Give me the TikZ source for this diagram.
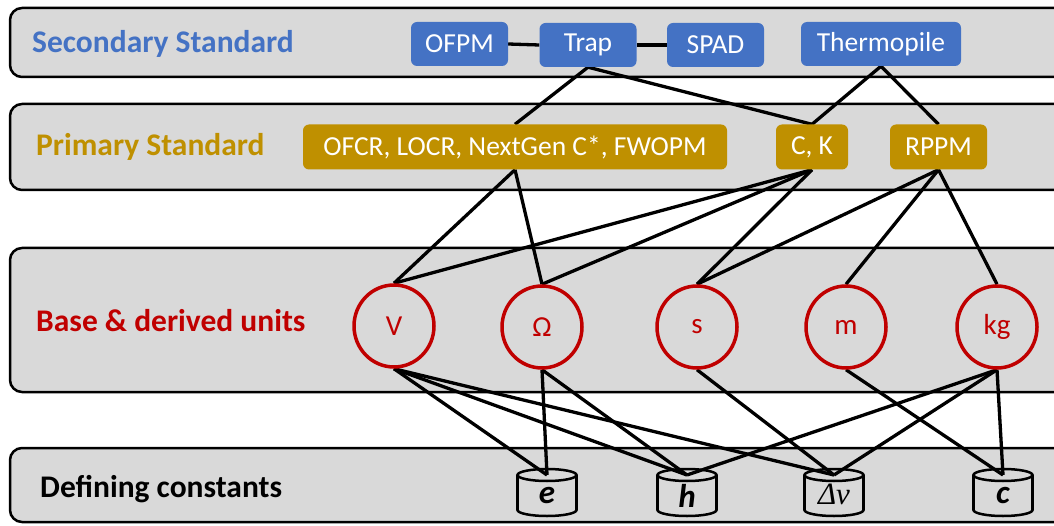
\documentclass[tikz,border=0pt]{standalone}
\usepackage{fontspec}
\setmainfont{Carlito}
\newfontfamily\timesfont{Liberation Serif}
\usetikzlibrary{shapes.geometric}
\definecolor{bandgray}{HTML}{D9D9D9}
\definecolor{secblue}{HTML}{4472C4}
\definecolor{prigold}{HTML}{BF9000}
\definecolor{unitred}{HTML}{C00000}
\pgfdeclarelayer{bg}
\pgfdeclarelayer{links}
\pgfsetlayers{bg,links,main}
\begin{document}
\begin{tikzpicture}[x=1pt,y=-1pt,
  band/.style={fill=bandgray, draw=black, line width=2.5pt, rounded corners=12pt},
  bandlabel/.style={anchor=base west, inner sep=0pt, font=\fontsize{31.5}{34}\selectfont\bfseries},
  secbox/.style={fill=secblue, rounded corners=6pt, text=white, minimum height=44pt, inner xsep=0pt, font=\fontsize{27.5}{30}\selectfont},
  pribox/.style={fill=prigold, rounded corners=6pt, text=white, minimum height=45pt, inner xsep=0pt, font=\fontsize{27.5}{30}\selectfont},
  unitc/.style={ellipse, draw=unitred, line width=3.5pt, fill=bandgray, minimum width=80pt, minimum height=82pt, inner sep=0pt, text=unitred, font=\fontsize{29}{30}\selectfont},
  constlabel/.style={inner sep=0pt, font=\fontsize{33}{34}\selectfont\bfseries\itshape},
  cylline/.style={draw=black, line width=2.5pt},
  link/.style={draw=black, line width=3.3pt}]
\clip (0,0) rectangle (1054,526);
\useasboundingbox (0,0) rectangle (1054,526);
% bands
\begin{pgfonlayer}{bg}
\draw[band] (10,8) rectangle (1080,77);
\draw[band] (10,104) rectangle (1080,190);
\draw[band] (10,248) rectangle (1080,392);
\draw[band] (10,448) rectangle (1080,522);
% cylinders
\foreach \x in {547,687,834,1003}{
  \filldraw[cylline, fill=bandgray] (\x,510) ellipse (29.5pt and 6pt);
  \fill[bandgray] (\x-29.5,475) rectangle (\x+29.5,510);
  \draw[cylline] (\x-29.5,475) -- (\x-29.5,510);
  \draw[cylline] (\x+29.5,475) -- (\x+29.5,510);
  \filldraw[cylline, fill=bandgray] (\x,475) ellipse (29.5pt and 6pt);
}
\end{pgfonlayer}
% band labels
\node[bandlabel, text=secblue] (lsec) at (32,53) {Secondary Standard};
\node[bandlabel, text=prigold] (lpri) at (36,156) {Primary Standard};
\node[bandlabel, text=unitred] (lunit) at (36,331) {Base \& derived units};
\node[bandlabel, text=black] (lconst) at (40,497) {Defining constants};
% secondary
\node[secbox, minimum width=97pt] (ofpm) at (459.5,44) {OFPM};
\node[secbox, minimum width=97pt] (trap) at (588,45) {Trap};
\node[secbox, minimum width=97pt] (spad) at (715.5,45) {SPAD};
\node[secbox, minimum width=160pt] (thermo) at (881,44) {Thermopile};
% primary
\node[pribox, minimum width=424pt] (ofcr) at (515,147) {OFCR, LOCR, NextGen C*, FWOPM};
\node[pribox, minimum width=72pt] (ck) at (812,147) {C, K};
\node[pribox, minimum width=97pt] (rppm) at (938.5,147) {RPPM};
% units
\node[unitc] (V) at (394,326) {V};
\node[unitc] (O) at (542,327) {Ω};
\node[unitc] (s) at (697,327) {s};
\node[unitc] (m) at (846,327) {m};
\node[unitc] (kg) at (997,327) {kg};
% constants
\coordinate (eT) at (547,475);
\coordinate (hT) at (687,475);
\coordinate (dnT) at (834,475);
\coordinate (cT) at (1003,475);
\node[constlabel] (e) at (547,496) {e};
\node[constlabel] (h) at (687,496) {h};
\node[inner sep=0pt, font=\fontsize{31}{34}\selectfont\timesfont\itshape] (dn) at (834,494) {Δν};
\node[constlabel] (c) at (1003,496) {c};
% links
\begin{pgfonlayer}{links}
\draw[link] (ofpm.east) -- (trap.west);
\draw[link] (trap.east) -- (spad.west);
\draw[link] (trap.south) -- (ofcr.north);
\draw[link] (trap.south) -- (ck.north);
\draw[link] (thermo.south) -- (ck.north);
\draw[link] (thermo.south) -- (rppm.north);
\draw[link] (ofcr.south) -- (V.north);
\draw[link] (ofcr.south) -- (O.north);
\draw[link] (ck.south) -- (V.north);
\draw[link] (ck.south) -- (O.north);
\draw[link] (ck.south) -- (s.north);
\draw[link] (rppm.south) -- (s.north);
\draw[link] (rppm.south) -- (m.north);
\draw[link] (rppm.south) -- (kg.north);
\draw[link] (V.south) -- (eT);
\draw[link] (V.south) -- (hT);
\draw[link] (V.south) -- (dnT);
\draw[link] (O.south) -- (eT);
\draw[link] (O.south) -- (hT);
\draw[link] (s.south) -- (dnT);
\draw[link] (m.south) -- (cT);
\draw[link] (kg.south) -- (hT);
\draw[link] (kg.south) -- (dnT);
\draw[link] (kg.south) -- (cT);
\end{pgfonlayer}
\end{tikzpicture}
\end{document}
